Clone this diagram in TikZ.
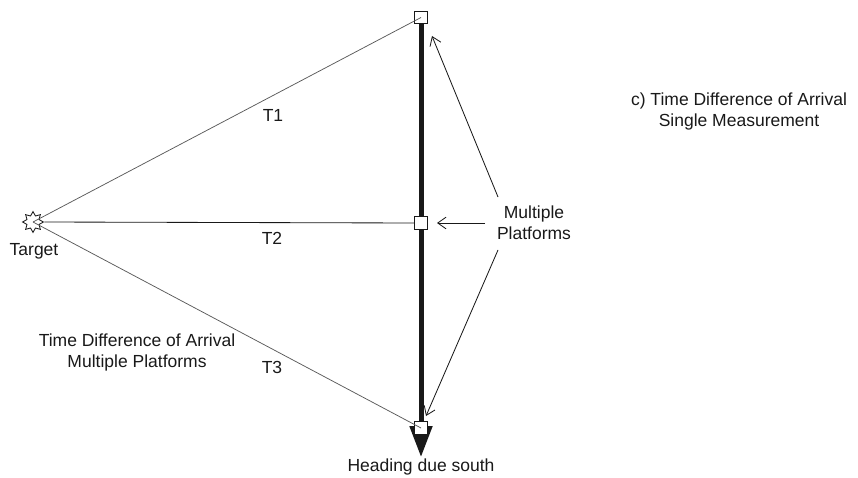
\documentclass[tikz,border=0pt]{standalone}
\usepackage{fontspec}
\setmainfont{Liberation Sans}
\usetikzlibrary{shapes.geometric,arrows.meta}
\definecolor{raygray}{RGB}{90, 90, 90}
\definecolor{inkblack}{RGB}{25, 25, 25}

\tikzset{
    platform/.style={draw=inkblack, fill=white, line width=0.5pt, minimum size=7.5pt, inner sep=0pt},
    emitter/.style={draw=inkblack, star, star points=8, star point ratio=1.6, minimum size=12.5pt, inner sep=0pt, line width=0.5pt},
    ray/.style={raygray, line width=0.45pt},
    pointer/.style={inkblack, line width=0.5pt, -{Straight Barb[length=5pt, width=7pt]}},
    heading/.style={inkblack, line width=3pt, -{Triangle[length=18.6pt, width=13.2pt]}},
    lbl/.style={font=\fontsize{10.5}{12.6}\selectfont, text=inkblack, inner sep=1pt, align=center}
}

\begin{document}
\begin{tikzpicture}[x=0.6pt, y=-0.6pt]
    \useasboundingbox (0,0) rectangle (858,478);

    % Heading of the platform track
    \coordinate (trackstart) at (421,20);
    \coordinate (tip) at (421,457);
    \draw[heading] (trackstart) -- (tip);
    \node[lbl] (headlbl) at (421,467) {Heading due south};

    % Platforms
    \node[platform] (ptop) at (421,17.5) {};
    \node[platform] (pmid) at (421,223) {};
    \node[platform] (pbot) at (421,428) {};

    % Target and rays
    \node[emitter] (target) at (33,222) {};
    \node[lbl] (targetlbl) at (34,251) {Target};
    \draw[ray] (target.center) -- (ptop.center);
    \draw[inkblack, line width=0.5pt] (target.east) -- (pmid.west);
    \draw[ray] (target.center) -- (pbot.center);
    \node[lbl] (t1) at (273,115) {T1};
    \node[lbl] (t2) at (272,238) {T2};
    \node[lbl] (t3) at (272,367) {T3};
    \node[lbl] (tdoamulti) at (137,352) {Time Difference of Arrival\\Multiple Platforms};

    % Multiple platforms callout
    \node[lbl] (multi) at (534,223) {Multiple\\Platforms};
    \coordinate (m1) at (498,197);
    \coordinate (m2) at (485,223);
    \coordinate (m3) at (498,250);
    \coordinate (e1) at (432,36);
    \coordinate (e2) at (437,223);
    \coordinate (e3) at (426,416);
    \draw[pointer] (m1) -- (e1);
    \draw[pointer] (m2) -- (e2);
    \draw[pointer] (m3) -- (e3);

    % Caption
    \node[lbl] (caption) at (739,111.5) {c) Time Difference of Arrival\\Single Measurement};
\end{tikzpicture}
\end{document}
